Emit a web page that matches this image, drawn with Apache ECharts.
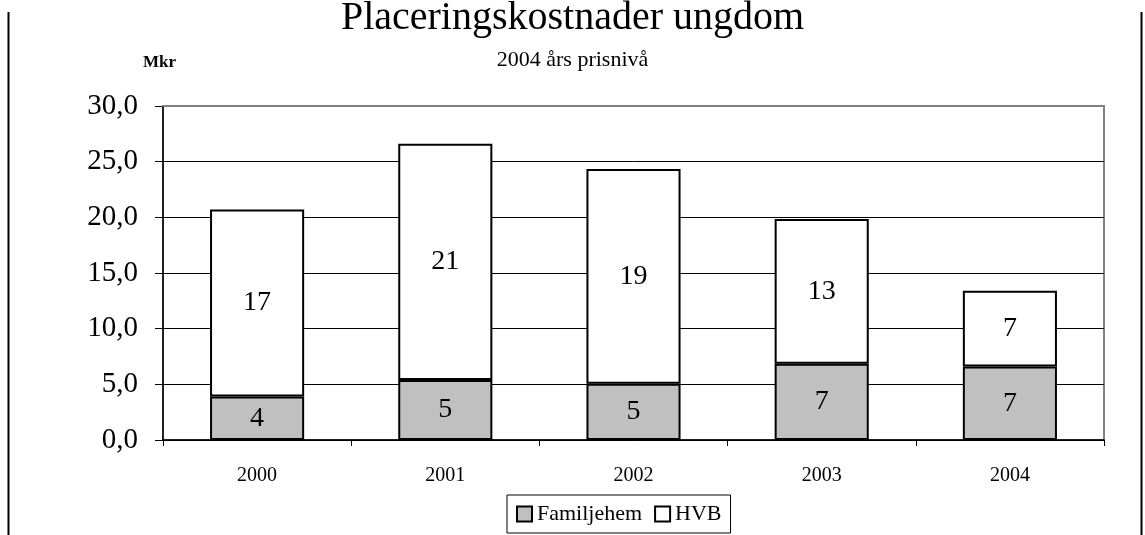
<!DOCTYPE html>
<html>
<head>
<meta charset="utf-8">
<title>Placeringskostnader ungdom</title>
<script src="https://cdn.jsdelivr.net/npm/echarts@6/dist/echarts.min.js"></script>
<style>
  html, body { margin: 0; padding: 0; background: #fff; }
  #chart { width: 1145px; height: 535px; }
</style>
</head>
<body>
<div id="chart"></div>
<script>
'use strict';
/* placement costs, youth - 2004 price level (Mkr) */

var years = ['2000', '2001', '2002', '2003', '2004'];
var familjehem = [3.9, 5.4, 5.05, 6.85, 6.6];
var hvb = [16.8, 21.2, 19.3, 13.0, 6.8];
var yTicks = [0, 5, 10, 15, 20, 25, 30];

var serif = "'Liberation Serif', 'Times New Roman', serif";

var chart = echarts.init(document.getElementById('chart'));

function segLabel(p) {
  return Math.round(p.value);
}

var option = {
  backgroundColor: '#fff',
  animation: false,
  title: [{
    text: 'Placeringskostnader ungdom',
    left: 'center',
    top: -7,
    padding: [5, 5, 5, 14],
    textStyle: { fontFamily: serif, fontSize: 40, fontWeight: 'normal', color: '#000' }
  }, {
    text: '2004 års prisnivå',
    left: 'center',
    top: 44,
    padding: [5, 5, 5, 12],
    textStyle: { fontFamily: serif, fontSize: 22, fontWeight: 'normal', color: '#000' }
  }, {
    text: 'Mkr',
    left: 138,
    top: 49,
    textStyle: { fontFamily: serif, fontSize: 17, fontWeight: 'bold', color: '#000' }
  }],
  legend: {
    data: ['Familjehem', 'HVB'],
    icon: 'rect',
    left: 507,
    top: 495,
    padding: [8, 9, 8, 9],
    itemGap: 12,
    itemWidth: 15,
    itemHeight: 15,
    borderColor: '#000',
    borderWidth: 1,
    textStyle: { fontFamily: serif, fontSize: 22, color: '#000' }
  },
  grid: {
    left: 163,
    right: 41,
    top: 106,
    bottom: 95,
    show: true,
    borderColor: '#808080',
    borderWidth: 2
  },
  xAxis: [{
    type: 'category',
    data: years,
    boundaryGap: true,
    axisLine: { lineStyle: { color: '#000', width: 1.5 } },
    axisTick: { show: true, length: 6, lineStyle: { color: '#000' } },
    axisLabel: { fontFamily: serif, fontSize: 20, color: '#000', margin: 26 }
  }, {
    // gray top edge of the plot area
    type: 'category',
    data: years,
    position: 'top',
    z: 3,
    axisLine: { lineStyle: { color: '#808080', width: 2 } },
    axisTick: { show: false },
    axisLabel: { show: false }
  }],
  yAxis: {
    type: 'value',
    min: yTicks[0],
    max: yTicks[yTicks.length - 1],
    interval: yTicks[1] - yTicks[0],
    axisLine: { show: true, lineStyle: { color: '#000', width: 1.5 } },
    axisTick: { show: true, length: 8, lineStyle: { color: '#000' } },
    axisLabel: {
      fontFamily: serif, fontSize: 29, color: '#000', margin: 25,
      formatter: function(v) { return v.toFixed(1).replace('.', ','); }
    },
    splitLine: { show: true, lineStyle: { color: '#000', width: 1 } }
  },
  series: [{
    name: 'Familjehem',
    type: 'bar',
    stack: 'total',
    barWidth: '50%',
    data: familjehem,
    itemStyle: { color: '#c0c0c0', borderColor: '#000', borderWidth: 2 },
    label: { show: true, position: 'inside', formatter: segLabel,
             fontFamily: serif, fontSize: 28, color: '#000' }
  }, {
    name: 'HVB',
    type: 'bar',
    stack: 'total',
    barWidth: '50%',
    data: hvb,
    itemStyle: { color: '#fff', borderColor: '#000', borderWidth: 2 },
    label: { show: true, position: 'inside', formatter: segLabel,
             fontFamily: serif, fontSize: 28, color: '#000' }
  }],
  graphic: [{
    type: 'line',
    shape: { x1: 8.5, y1: 12, x2: 8.5, y2: 535 },
    style: { stroke: '#000', lineWidth: 2 }
  }, {
    type: 'line',
    shape: { x1: 1141.5, y1: 12, x2: 1141.5, y2: 535 },
    style: { stroke: '#000', lineWidth: 2 }
  }]
};

chart.setOption(option);
</script>
</body>
</html>
